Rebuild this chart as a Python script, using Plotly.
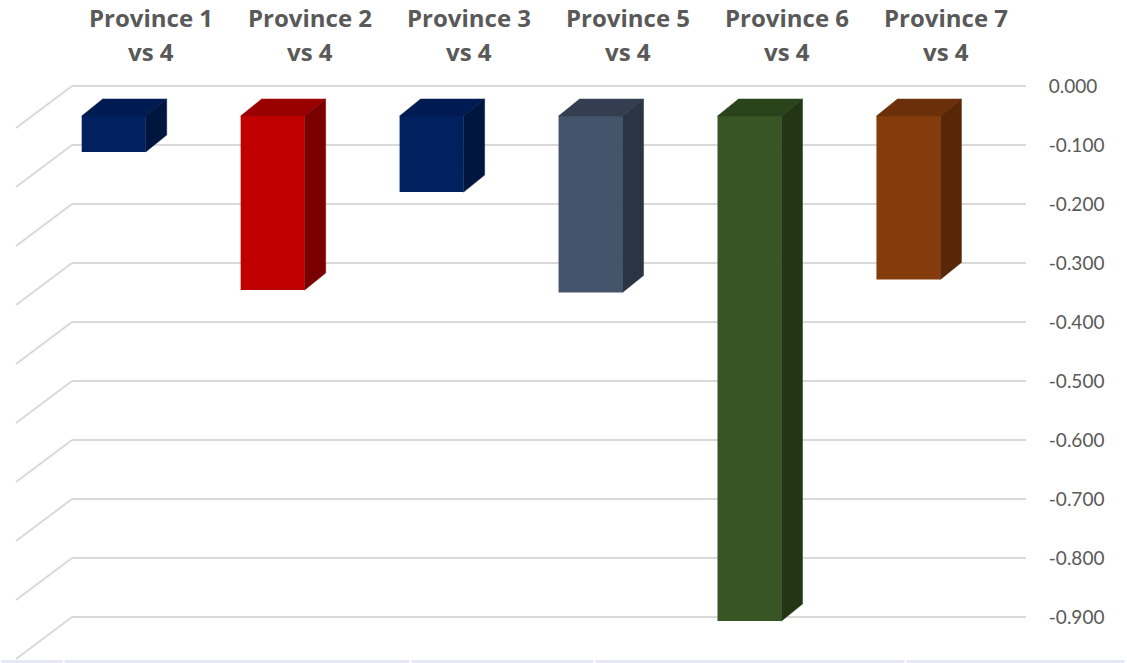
import plotly.graph_objects as go

# ---------------- data ----------------
categories = ["Province 1", "Province 2", "Province 3", "Province 5", "Province 6", "Province 7"]
label_line2 = ["vs 4", "vs 4", "vs 4", "vs 4", "vs 4", "vs 4"]
values = [-0.061, -0.295, -0.129, -0.299, -0.856, -0.277]
tick_values = [0.0, -0.1, -0.2, -0.3, -0.4, -0.5, -0.6, -0.7, -0.8, -0.9]
front_colors = ["#002060", "#C00000", "#002060", "#44546A", "#375623", "#843C0C"]
top_colors = ["#001b52", "#9a0000", "#001b52", "#333f50", "#2b431b", "#6b300a"]
side_colors = ["#00163f", "#7a0000", "#00163f", "#2a3442", "#223616", "#572708"]

# ---------------- geometry (oblique 3D projection) ----------------
W, H = 1127, 663
PX_X = 158.95          # pixels per category step
PX_Y = 590.0           # pixels per 1.0 value
X0_PX = 113.7          # pixel of first category centre (front face)
Y0_PX = 86.0           # pixel of value 0 on back wall
PLOT_R = 1030          # right edge of plot area (px)

x_min = -X0_PX / PX_X
x_max = (PLOT_R - X0_PX) / PX_X
y_max = Y0_PX / PX_Y
y_min = (Y0_PX - H) / PX_Y

bar_w = 64 / PX_X
front_drop = 30 / PX_Y            # front face top below back-wall zero
cap_dx, cap_dy = 21 / PX_X, 17 / PX_Y
wall_left = (72 - X0_PX) / PX_X
wall_right = (1026 - X0_PX) / PX_X
wall_dx, wall_dy = -56 / PX_X, -42 / PX_Y
label_dx = 37.5 / PX_X

grid_col = "#d9d9d9"
text_col = "#595959"

fig = go.Figure()

# back wall + side wall gridlines (below traces)
shapes = []
for v in tick_values:
    shapes.append(dict(type="line", xref="x", yref="y", layer="below",
                       x0=wall_left, x1=wall_right, y0=v, y1=v,
                       line=dict(color=grid_col, width=2)))
    shapes.append(dict(type="line", xref="x", yref="y", layer="below",
                       x0=wall_left, x1=wall_left + wall_dx, y0=v, y1=v + wall_dy,
                       line=dict(color=grid_col, width=2)))

# bottom band (light strip)
gaps = [0, 63, 410, 594, 905, 1125]
for a, b in zip(gaps[:-1], gaps[1:]):
    shapes.append(dict(type="rect", xref="paper", yref="paper", layer="below",
                       x0=(a + 1.5) / PLOT_R, x1=(b - 0.5) / PLOT_R,
                       y0=0, y1=3 / H, line=dict(width=0), fillcolor="#e6e9f5"))

xs = list(range(len(categories)))
top = -front_drop

# front faces
fig.add_trace(go.Bar(x=xs, y=values, base=[top] * len(values), width=bar_w,
                     marker=dict(color=front_colors, line=dict(width=0)),
                     showlegend=False, hoverinfo="skip"))

# top and side faces
for i, v in enumerate(values):
    xl, xr = i - bar_w / 2, i + bar_w / 2
    bot = top + v
    fig.add_trace(go.Scatter(
        x=[xl, xr, xr + cap_dx, xl + cap_dx, xl],
        y=[top, top, top + cap_dy, top + cap_dy, top],
        fill="toself", fillcolor=top_colors[i], mode="lines",
        line=dict(width=0.5, color=top_colors[i]), showlegend=False, hoverinfo="skip"))
    fig.add_trace(go.Scatter(
        x=[xr, xr + cap_dx, xr + cap_dx, xr, xr],
        y=[top, top + cap_dy, bot + cap_dy, bot, top],
        fill="toself", fillcolor=side_colors[i], mode="lines",
        line=dict(width=0.5, color=side_colors[i]), showlegend=False, hoverinfo="skip"))

# category labels
annotations = []
for i, (c, l2) in enumerate(zip(categories, label_line2)):
    for txt, ypx in ((c, 17), (l2, 52)):
        annotations.append(dict(x=i + label_dx, y=1 - ypx / H, xref="x", yref="paper",
                                text="<b>%s</b>" % txt, showarrow=False,
                                xanchor="center", yanchor="middle",
                                font=dict(family="Open Sans", size=24, color=text_col)))

fig.update_layout(
    width=W, height=H,
    margin=dict(l=0, r=W - PLOT_R, t=0, b=0),
    paper_bgcolor="white", plot_bgcolor="white",
    barmode="overlay",
    shapes=shapes, annotations=annotations,
    xaxis=dict(range=[x_min, x_max], visible=False, fixedrange=True),
    yaxis=dict(range=[y_min, y_max], side="right", showgrid=False, zeroline=False,
               tickvals=tick_values,
               ticktext=[f"{abs(v):.3f}" if v == 0 else f"{v:.3f}" for v in tick_values],
               ticks="outside", ticklen=14, tickcolor="rgba(0,0,0,0)",
               showline=False,
               tickfont=dict(family="Lato", size=19, color=text_col)),
)

fig.write_html("out.html")
